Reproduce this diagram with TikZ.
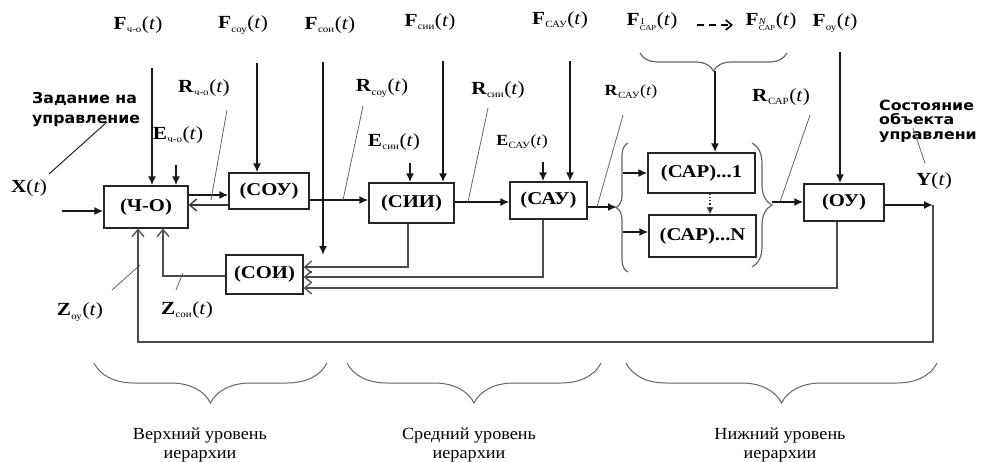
\documentclass[tikz,border=0pt]{standalone}
\usepackage{fontspec}
\setmainfont{Liberation Serif}[FakeStretch=1.15]
\newfontfamily\botfont{Liberation Serif}[FakeStretch=1.07]
\newfontfamily\sansb{DejaVu Sans}[FakeStretch=1.05]
\newfontfamily\sansc{DejaVu Sans}[FakeStretch=1.13]
\usetikzlibrary{arrows.meta,decorations.pathreplacing}
\newcommand{\sg}[2]{\textbf{#1}\kern0.3pt\raisebox{-0.4ex}{\fontsize{9.5}{9.5}\selectfont #2}\kern0.6pt(\textit{t})}
\newcommand{\sgs}[3]{\textbf{#1}\kern0.3pt\raisebox{-0.6ex}{\shortstack[l]{\fontsize{9}{9}\selectfont #3\\[-1.5pt]\fontsize{7.5}{7.5}\selectfont #2}}\kern0.6pt(\textit{t})}
\begin{document}
\begin{tikzpicture}[x=1pt,y=-1pt,
 box/.style={draw=black!85, line width=1.4pt, font=\fontsize{18}{18}\selectfont\bfseries, inner sep=0pt},
 sig/.style={draw=black!90, line width=1.6pt, -{Latex[length=9pt,width=8pt]}},
 opn/.style={draw=black!80, line width=1.3pt, -{Straight Barb[length=7pt,width=12pt]}},
 fbk/.style={draw=black!70, line width=1.3pt, -{Straight Barb[length=7pt,width=12pt]}},
 lead/.style={draw=black!60, line width=0.8pt},
 brc/.style={draw=black!60, line width=1.2pt, decorate},
 lab/.style={inner sep=0pt, font=\fontsize{18.5}{18.5}\selectfont},
 labs/.style={inner sep=0pt, font=\fontsize{15.5}{15.5}\selectfont},
 bot/.style={inner sep=0pt, align=center, anchor=north, font=\botfont\fontsize{17}{19}\selectfont}
]
\useasboundingbox (0,0) rectangle (985,461);
\fill[white] (0,0) rectangle (985,461);

% boxes
\node[box, minimum width=84pt, minimum height=42pt] (cho) at (146,207) {(Ч-О)};
\node[box, minimum width=80pt, minimum height=36pt] (sou) at (269,191) {(СОУ)};
\node[box, minimum width=77pt, minimum height=39pt] (soi) at (264.5,274.5) {(СОИ)};
\node[box, minimum width=85pt, minimum height=40pt] (sii) at (411.5,203) {(СИИ)};
\node[box, minimum width=77pt, minimum height=37pt] (sau) at (548.5,200.5) {(САУ)};
\node[box, minimum width=107pt, minimum height=40pt] (sar1) at (701.5,173) {(САР)...1};
\node[box, minimum width=107pt, minimum height=42pt] (sarn) at (702.5,236) {(САР)...N};
\node[box, minimum width=80pt, minimum height=37pt] (ou) at (844,202.5) {(ОУ)};

% labels
\node[lab] (lFcho) at (138,25) {\sg{F}{ч-о}};
\node[lab] (lFsou) at (243,25) {\sg{F}{соу}};
\node[lab] (lFsoi) at (330,25) {\sg{F}{сои}};
\node[lab] (lFsii) at (430,22) {\sg{F}{сии}};
\node[lab] (lFsau) at (560,20) {\sg{F}{САУ}};
\node[lab] (lFs1) at (652,22) {\sgs{F}{САР}{1}};
\node[lab] (lFsN) at (771,22) {\sgs{F}{САР}{\textit{N}}};
\node[lab] (lFou) at (835,23) {\sg{F}{оу}};
\node[lab] (lRcho) at (204,88) {\sg{R}{ч-о}};
\node[lab] (lEcho) at (178,135) {\sg{E}{ч-о}};
\node[lab] (lRsou) at (382,88) {\sg{R}{соу}};
\node[lab] (lEsii) at (394,142) {\sg{E}{сии}};
\node[lab] (lRsii) at (498,90) {\sg{R}{сии}};
\node[labs] (lEsau) at (522,142) {\sg{E}{САУ}};
\node[labs] (lRsau) at (631,92) {\sg{R}{САУ}};
\node[lab] (lRsar) at (781,97) {\sg{R}{САР}};
\node[lab] (lX) at (29,188) {\textbf{X}(\textit{t})};
\node[lab] (lY) at (934,181) {\textbf{Y}(\textit{t})};
\node[lab] (lZou) at (80,312) {\sg{Z}{оу}};
\node[lab] (lZsoi) at (187,310) {\sg{Z}{сои}};

\node[inner sep=0pt, anchor=north west, align=left, font=\sansb\bfseries\fontsize{15}{20}\selectfont] (zad) at (32,92.6) {Задание на\\управление};
\node[inner sep=0pt, anchor=north west, align=left, font=\sansc\bfseries\fontsize{14}{14.5}\selectfont] (sost) at (879,99.8) {Состояние\\объекта\\управлени};

\node[bot] (lv1) at (200,427.3) {Верхний уровень\\иерархии};
\node[bot] (lv2) at (469,427.3) {Средний уровень\\иерархии};
\node[bot] (lv3) at (780,427.3) {Нижний уровень\\иерархии};

% helper coordinates
\coordinate (h195) at (0,195);
\coordinate (h205) at (0,205);
\coordinate (h200) at (0,200);
\coordinate (h202) at (0,202);

% input
\coordinate (xin) at (62,211);
\draw[sig] (xin) -- (xin -| cho.west);
\coordinate (zadA) at (107,122); \coordinate (zadB) at (49,174);
\draw[lead, black!85, line width=1pt] (zadA) -- (zadB);

% top arrows
\coordinate (fchoT) at (152,68); \draw[sig] (fchoT) -- (fchoT |- cho.north);
\coordinate (echoT) at (176,165); \draw[sig] (echoT) -- (echoT |- cho.north);
\coordinate (fsouT) at (257,63); \draw[sig] (fsouT) -- (fsouT |- sou.north);
\coordinate (fsoiT) at (323,62); \coordinate (fsoiB) at (323,255); \draw[sig] (fsoiT) -- (fsoiB);
\coordinate (esiiT) at (410,163); \draw[sig] (esiiT) -- (esiiT |- sii.north);
\coordinate (fsiiT) at (443,61); \draw[sig] (fsiiT) -- (fsiiT |- sii.north);
\coordinate (esauT) at (543,162); \draw[sig] (esauT) -- (esauT |- sau.north);
\coordinate (fsauT) at (570,61); \draw[sig] (fsauT) -- (fsauT |- sau.north);
\coordinate (fouT) at (840,52); \draw[sig] (fouT) -- (fouT |- ou.north);

% chain
\draw[sig] (cho.east |- h195) -- (sou.west |- h195);
\draw[opn] (sou.west |- h205) -- (cho.east |- h205);
\draw[sig] (sou.east |- h200) -- (sii.west |- h200);
\draw[sig] (sii.east |- h202) -- (sau.west |- h202);
\coordinate (lbtip) at (617,207);
\draw[sig] (sau.east |- lbtip) -- (lbtip);

% leaders
\coordinate (rchoA) at (227,110); \coordinate (rchoB) at (211,200); \draw[lead] (rchoA) -- (rchoB);
\coordinate (rsouA) at (363,106); \coordinate (rsouB) at (343,200); \draw[lead] (rsouA) -- (rsouB);
\coordinate (rsiiA) at (488,108); \coordinate (rsiiB) at (468,202); \draw[lead] (rsiiA) -- (rsiiB);
\coordinate (rsauA) at (623,115); \coordinate (rsauB) at (597,207); \draw[lead] (rsauA) -- (rsauB);
\coordinate (rsarA) at (810,115); \coordinate (rsarB) at (780,202); \draw[lead] (rsarA) -- (rsarB);
\coordinate (yA) at (913,128); \coordinate (yB) at (925,163); \draw[lead] (yA) -- (yB);
\coordinate (zouA) at (112,290); \coordinate (zouB) at (140,265); \draw[lead] (zouA) -- (zouB);
\coordinate (zsoiA) at (176,290); \coordinate (zsoiB) at (183,273); \draw[lead] (zsoiA) -- (zsoiB);

% braces around SAR
\draw[brc, decoration={brace, amplitude=12pt}] (628,272) -- (628,143);
\coordinate (lb1) at (623,173); \draw[sig] (lb1) -- (lb1 -| sar1.west);
\coordinate (lb2) at (623,232); \draw[sig] (lb2) -- (lb2 -| sarn.west);
\coordinate (dotx) at (710,0);
\draw[draw=black!80, line width=1.2pt, dotted, -{Latex[length=7pt,width=7pt]}] (sar1.south -| dotx) -- (sarn.north -| dotx);
\draw[brc, decoration={brace, amplitude=20pt}] (752,143) -- (752,267);
\coordinate (rbtip) at (772,202);
\draw[sig] (rbtip) -- (rbtip -| ou.west);
\draw[brc, decoration={brace, amplitude=18pt}] (787,53) -- (640,53);
\coordinate (tbtip) at (715,71);
\draw[sig] (tbtip) -- (tbtip |- sar1.north);
\coordinate (da) at (697,25); \coordinate (db) at (733,25);
\draw[line width=1.6pt, dash pattern=on 7pt off 5pt, -{Straight Barb[length=6pt,width=10pt]}] (da) -- (db);

% output
\coordinate (yout) at (933,205);
\draw[sig] (ou.east |- yout) -- (yout);

% feedback
\coordinate (fb1) at (408,267); \draw[fbk] (sii.south -| fb1) -- (fb1) -- (fb1 -| soi.east);
\coordinate (fb2) at (543,277); \draw[fbk] (sau.south -| fb2) -- (fb2) -- (fb2 -| soi.east);
\coordinate (fb3) at (837,288); \draw[fbk] (ou.south -| fb3) -- (fb3) -- (fb3 -| soi.east);
\coordinate (fb4) at (163,276); \draw[fbk] (soi.west |- fb4) -- (fb4) -- (fb4 |- cho.south);
\coordinate (fb5a) at (933,342); \coordinate (fb5b) at (138,342);
\draw[fbk] (yout) -- (fb5a) -- (fb5b) -- (fb5b |- cho.south);

% bottom braces
\draw[brc, line width=1pt, decoration={brace, amplitude=40pt}] (327,363) -- (94,363);
\draw[brc, line width=1pt, decoration={brace, amplitude=40pt}] (601,363) -- (347,363);
\draw[brc, line width=1pt, decoration={brace, amplitude=40pt}] (937,363) -- (626,363);
\end{tikzpicture}
\end{document}
